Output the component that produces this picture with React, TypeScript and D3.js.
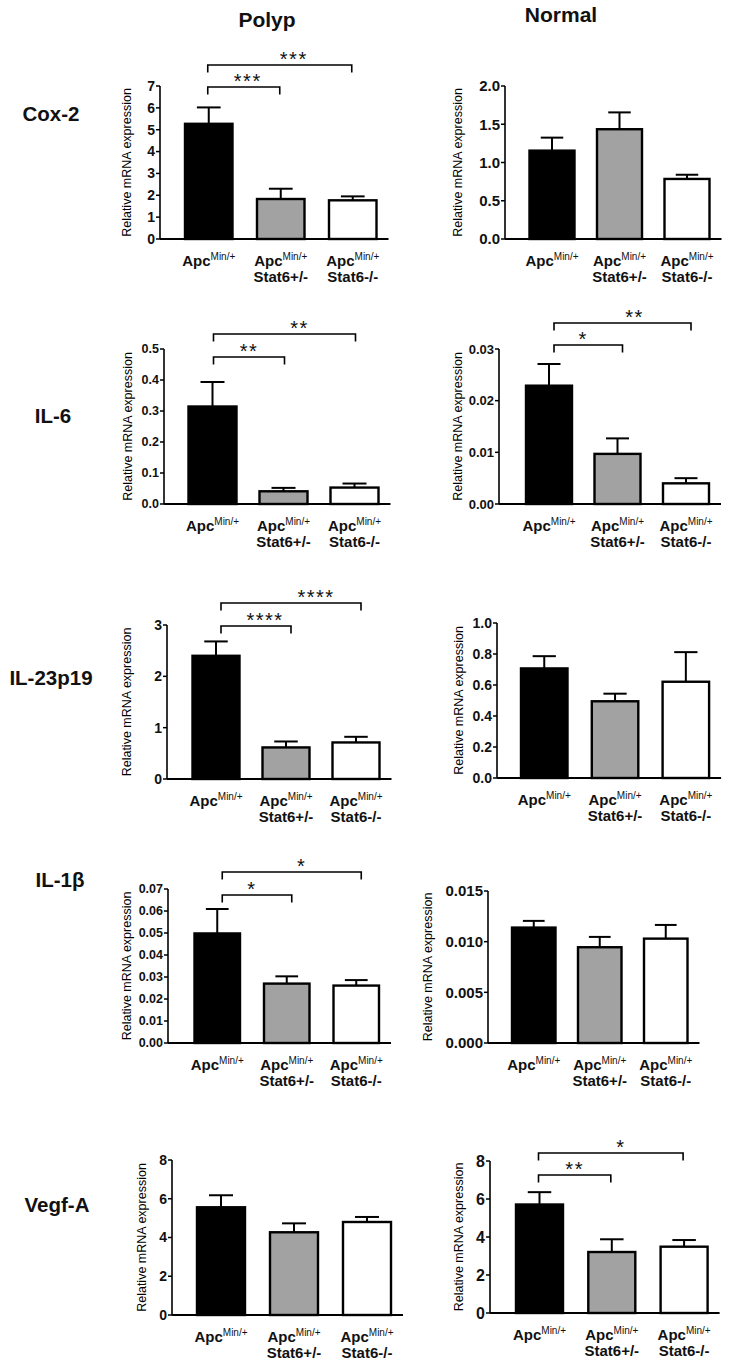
import React from 'react';
import * as d3 from 'd3';

// ---------- data ----------
const groups = ['ApcMin/+', 'ApcMin/+ Stat6+/-', 'ApcMin/+ Stat6-/-'];
const groupLine2 = ['', 'Stat6+/-', 'Stat6-/-'];
const tissues = ['Polyp', 'Normal'];
const genes = ['Cox-2', 'IL-6', 'IL-23p19', 'IL-1β', 'Vegf-A'];

const cox2PolypMean = [5.27, 1.83, 1.77];
const cox2PolypErr = [0.75, 0.47, 0.18];
const cox2NormalMean = [1.155, 1.435, 0.785];
const cox2NormalErr = [0.17, 0.22, 0.055];

const il6PolypMean = [0.3145, 0.041, 0.053];
const il6PolypErr = [0.079, 0.011, 0.013];
const il6NormalMean = [0.0229, 0.0097, 0.0040];
const il6NormalErr = [0.0042, 0.0030, 0.0010];

const il23PolypMean = [2.40, 0.615, 0.712];
const il23PolypErr = [0.28, 0.116, 0.11];
const il23NormalMean = [0.707, 0.495, 0.621];
const il23NormalErr = [0.079, 0.049, 0.191];

const il1bPolypMean = [0.0498, 0.0270, 0.0261];
const il1bPolypErr = [0.0111, 0.0033, 0.0025];
const il1bNormalMean = [0.01139, 0.00945, 0.0103];
const il1bNormalErr = [0.00066, 0.00102, 0.00135];

const vegfPolypMean = [5.56, 4.27, 4.80];
const vegfPolypErr = [0.62, 0.46, 0.26];
const vegfNormalMean = [5.71, 3.21, 3.49];
const vegfNormalErr = [0.65, 0.67, 0.35];

const ticksCox2Polyp = [0, 1, 2, 3, 4, 5, 6, 7];
const ticksCox2Normal = [0, 0.5, 1.0, 1.5, 2.0];
const ticksIl6Polyp = [0, 0.1, 0.2, 0.3, 0.4, 0.5];
const ticksIl6Normal = [0, 0.01, 0.02, 0.03];
const ticksIl23Polyp = [0, 1, 2, 3];
const ticksIl23Normal = [0, 0.2, 0.4, 0.6, 0.8, 1.0];
const ticksIl1bPolyp = [0, 0.01, 0.02, 0.03, 0.04, 0.05, 0.06, 0.07];
const ticksIl1bNormal = [0, 0.005, 0.010, 0.015];
const ticksVegfPolyp = [0, 2, 4, 6, 8];
const ticksVegfNormal = [0, 2, 4, 6, 8];

const sigCox2Polyp = [{ from: 0, to: 1, label: '***' }, { from: 0, to: 2, label: '***' }];
const sigIl6Polyp = [{ from: 0, to: 1, label: '**' }, { from: 0, to: 2, label: '**' }];
const sigIl6Normal = [{ from: 0, to: 1, label: '*' }, { from: 0, to: 2, label: '**' }];
const sigIl23Polyp = [{ from: 0, to: 1, label: '****' }, { from: 0, to: 2, label: '****' }];
const sigIl1bPolyp = [{ from: 0, to: 1, label: '*' }, { from: 0, to: 2, label: '*' }];
const sigVegfNormal = [{ from: 0, to: 1, label: '**' }, { from: 0, to: 2, label: '*' }];

// ---------- layout ----------
const FONT = "'Liberation Sans', Arial, Helvetica, sans-serif";
const fills = ['#000000', '#a2a2a2', '#ffffff'];

type Sig = { from: number; to: number; label: string };
type Cfg = {
  axisX: number; y0: number; yTop: number; max: number;
  bar0: number; step: number; bw: number; tickFont: number; labelX: number;
  fmt: string; bracketY?: number[]; bracketDx?: number; starDx?: number[];
};

const panels: { mean: number[]; err: number[]; ticks: number[]; sig: Sig[]; cfg: Cfg }[] = [
  { mean: cox2PolypMean, err: cox2PolypErr, ticks: ticksCox2Polyp, sig: sigCox2Polyp,
    cfg: { axisX: 160, y0: 239, yTop: 86, max: 7, bar0: 185, step: 72, bw: 47.5, tickFont: 14, labelX: 127, fmt: 'd', bracketY: [87, 65], bracketDx: -1, starDx: [4, 14] } },
  { mean: cox2NormalMean, err: cox2NormalErr, ticks: ticksCox2Normal, sig: [],
    cfg: { axisX: 505, y0: 239, yTop: 86, max: 2, bar0: 529.5, step: 67.5, bw: 45, tickFont: 15, labelX: 458, fmt: '.1f' } },
  { mean: il6PolypMean, err: il6PolypErr, ticks: ticksIl6Polyp, sig: sigIl6Polyp,
    cfg: { axisX: 164, y0: 504, yTop: 349, max: 0.5, bar0: 188.5, step: 71, bw: 48, tickFont: 12.5, labelX: 128, fmt: '.1f', bracketY: [357, 334], bracketDx: 1, starDx: [0, 15] } },
  { mean: il6NormalMean, err: il6NormalErr, ticks: ticksIl6Normal, sig: sigIl6Normal,
    cfg: { axisX: 499, y0: 504, yTop: 349, max: 0.03, bar0: 526, step: 68.5, bw: 46, tickFont: 13, labelX: 458, fmt: '.2f', bracketY: [345, 323], bracketDx: 5, starDx: [-5, 12] } },
  { mean: il23PolypMean, err: il23PolypErr, ticks: ticksIl23Polyp, sig: sigIl23Polyp,
    cfg: { axisX: 167, y0: 779, yTop: 625, max: 3, bar0: 192.5, step: 70, bw: 47, tickFont: 14, labelX: 127, fmt: 'd', bracketY: [626, 603], bracketDx: 5, starDx: [9, 25] } },
  { mean: il23NormalMean, err: il23NormalErr, ticks: ticksIl23Normal, sig: [],
    cfg: { axisX: 497, y0: 778, yTop: 623, max: 1, bar0: 521, step: 70.8, bw: 46.5, tickFont: 14, labelX: 459, fmt: '.1f' } },
  { mean: il1bPolypMean, err: il1bPolypErr, ticks: ticksIl1bPolyp, sig: sigIl1bPolyp,
    cfg: { axisX: 168, y0: 1043, yTop: 889, max: 0.07, bar0: 194.5, step: 69.5, bw: 45.5, tickFont: 12.5, labelX: 127, fmt: '.2f', bracketY: [895, 872], bracketDx: 5, starDx: [-5, 10] } },
  { mean: il1bNormalMean, err: il1bNormalErr, ticks: ticksIl1bNormal, sig: [],
    cfg: { axisX: 488, y0: 1043, yTop: 891, max: 0.015, bar0: 512, step: 66, bw: 43.5, tickFont: 15, labelX: 428, fmt: '.3f' } },
  { mean: vegfPolypMean, err: vegfPolypErr, ticks: ticksVegfPolyp, sig: [],
    cfg: { axisX: 172, y0: 1315, yTop: 1160, max: 8, bar0: 197, step: 73, bw: 48, tickFont: 14, labelX: 142, fmt: 'd' } },
  { mean: vegfNormalMean, err: vegfNormalErr, ticks: ticksVegfNormal, sig: sigVegfNormal,
    cfg: { axisX: 490, y0: 1313, yTop: 1161, max: 8, bar0: 516, step: 72.3, bw: 47, tickFont: 16, labelX: 459, fmt: 'd', bracketY: [1175, 1153], bracketDx: -1, starDx: [0, 10] } },
];

const geneLabelPos = [
  { x: 51, y: 121 },
  { x: 53, y: 423 },
  { x: 51, y: 685 },
  { x: 60, y: 887 },
  { x: 57, y: 1212 },
];
const tissuePos = [
  { x: 267, y: 27 },
  { x: 561, y: 22 },
];

function Panel({ mean, err, ticks, sig, cfg }: { mean: number[]; err: number[]; ticks: number[]; sig: Sig[]; cfg: Cfg }) {
  const x = d3.scaleBand<string>()
    .domain(groups)
    .range([cfg.bar0, cfg.bar0 + 2 * cfg.step + cfg.bw])
    .paddingInner((cfg.step - cfg.bw) / cfg.step)
    .paddingOuter(0);
  const y = d3.scaleLinear().domain([0, cfg.max]).range([cfg.y0, cfg.yTop]);
  const bw = x.bandwidth();
  const xEnd = (x(groups[2]) as number) + bw + 12;
  const f = d3.format(cfg.fmt);
  const cx = (i: number) => (x(groups[i]) as number) + bw / 2;
  return (
    <g>
      <line x1={cfg.axisX} x2={cfg.axisX} y1={y(0)} y2={y(cfg.max)} stroke="#000" strokeWidth={1.6} />
      {ticks.map((t) => (
        <g key={t}>
          <line x1={cfg.axisX - 4} x2={cfg.axisX} y1={y(t)} y2={y(t)} stroke="#000" strokeWidth={1.5} />
          <text x={cfg.axisX - 5} y={y(t)} dy="0.35em" textAnchor="end" fontFamily={FONT} fontWeight="bold" fontSize={cfg.tickFont} fill="#111">{f(t)}</text>
        </g>
      ))}
      <text transform={`translate(${cfg.labelX},${(cfg.y0 + cfg.yTop) / 2}) rotate(-90)`} textAnchor="middle" dy="0.35em" fontFamily={FONT} fontSize={12.5} fill="#000">Relative mRNA expression</text>
      {groups.map((g, i) => {
        const bx = x(g) as number;
        const top = y(mean[i]);
        const et = y(mean[i] + err[i]);
        return (
          <g key={g}>
            <line x1={bx + bw / 2} x2={bx + bw / 2} y1={top} y2={et} stroke="#000" strokeWidth={2} />
            <line x1={bx + bw / 4} x2={bx + (3 * bw) / 4} y1={et} y2={et} stroke="#000" strokeWidth={2} />
            <rect x={bx} y={top} width={bw} height={y(0) - top} fill={fills[i]} stroke="#000" strokeWidth={2.4} />
          </g>
        );
      })}
      <line x1={cfg.axisX} x2={xEnd} y1={y(0)} y2={y(0)} stroke="#000" strokeWidth={1.8} />
      {groups.map((g, i) => (
        <g key={'l' + g}>
          <text x={cx(i)} y={cfg.y0 + 27} textAnchor="middle" fontFamily={FONT} fontWeight="bold" fontSize={15} fill="#111">
            Apc<tspan fontSize={10} fontWeight="normal" dy={-6}>Min/+</tspan>
          </text>
          {groupLine2[i] && (
            <text x={cx(i)} y={cfg.y0 + 43} textAnchor="middle" fontFamily={FONT} fontWeight="bold" fontSize={15} fill="#111">{groupLine2[i]}</text>
          )}
        </g>
      ))}
      {sig.map((s, k) => {
        const by = cfg.bracketY ? cfg.bracketY[k] : 0;
        const dx = cfg.bracketDx || 0;
        const x1 = cx(s.from) + dx;
        const x2 = cx(s.to) + dx;
        const sdx = cfg.starDx ? cfg.starDx[k] : 0;
        return (
          <g key={'s' + k}>
            <path d={`M${x1},${by + 7.5}V${by}H${x2}V${by + 7.5}`} fill="none" stroke="#000" strokeWidth={1.6} />
            <text x={(x1 + x2) / 2 + sdx} y={by + 0.5} textAnchor="middle" fontFamily={FONT} fontSize={20} letterSpacing={1.5} fill="#111">{s.label}</text>
          </g>
        );
      })}
    </g>
  );
}

export default function App() {
  return (
    <svg width={741} height={1363} viewBox="0 0 741 1363" style={{ position: 'absolute', left: 0, top: 0, background: '#fff' }}>
      <rect width={741} height={1363} fill="#fff" />
      {tissues.map((t, i) => (
        <text key={t} x={tissuePos[i].x} y={tissuePos[i].y} textAnchor="middle" fontFamily={FONT} fontWeight="bold" fontSize={21} fill="#111">{t}</text>
      ))}
      {genes.map((g, i) => (
        <text key={g} x={geneLabelPos[i].x} y={geneLabelPos[i].y} textAnchor="middle" fontFamily={FONT} fontWeight="bold" fontSize={20.5} fill="#111">{g}</text>
      ))}
      {panels.map((p, i) => (
        <Panel key={i} {...p} />
      ))}
    </svg>
  );
}
